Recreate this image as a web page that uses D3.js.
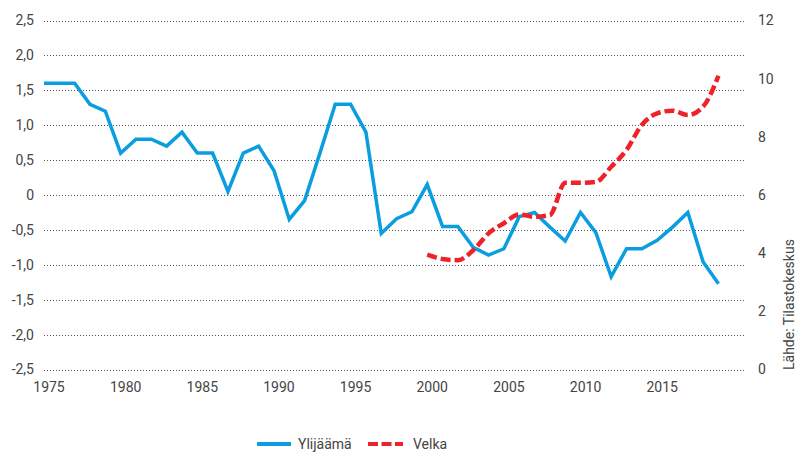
<!DOCTYPE html>
<html>
<head>
<meta charset="utf-8">
<script src="https://cdn.jsdelivr.net/npm/d3@7"></script>
<style>
  body { margin: 0; background: #fff; }
  text { font-family: Roboto, "Open Sans", sans-serif; fill: #444; }
</style>
</head>
<body>
<div id="chart"></div>
<script>
// surplus (left axis), 1975-2019
const surplusYears = d3.range(1975, 2020);
const surplus = [1.6, 1.6, 1.6, 1.3, 1.2, 0.6, 0.8, 0.8, 0.7, 0.9,
  0.6, 0.6, 0.05, 0.6, 0.7, 0.35, -0.35, -0.08, 0.6, 1.3,
  1.3, 0.9, -0.55, -0.34, -0.24, 0.15, -0.45, -0.45, -0.75, -0.86,
  -0.77, -0.31, -0.25, -0.46, -0.66, -0.25, -0.54, -1.17, -0.77, -0.77,
  -0.65, -0.46, -0.25, -0.96, -1.27];

// debt (right axis), 2000-2019
const debtYears = d3.range(2000, 2020);
const debt = [3.95, 3.8, 3.76, 4.1, 4.68, 5.03, 5.33, 5.25, 5.31, 6.42,
  6.42, 6.45, 6.97, 7.55, 8.41, 8.81, 8.9, 8.75, 9.04, 10.1];

const leftTicks = [2.5, 2, 1.5, 1, 0.5, 0, -0.5, -1, -1.5, -2, -2.5];
const rightTicks = [0, 2, 4, 6, 8, 10, 12];
const yearTicks = [1975, 1980, 1985, 1990, 1995, 2000, 2005, 2010, 2015];

const W = 797, H = 453;
const blue = "#0a9ee0", red = "#ee2229";

const svg = d3.select("#chart").append("svg")
  .attr("width", W)
  .attr("height", H);

const x = d3.scaleLinear().domain([1975, 2020.73]).range([44, 745]);
const yL = d3.scaleLinear().domain([-2.5, 2.5]).range([369.5, 20.5]);
const yR = d3.scaleLinear().domain([0, 12]).range([369.5, 20.5]);

const fmt = v => v === 0 ? "0" : d3.format(".1f")(v).replace(".", ",").replace("−", "-");

// dotted gridlines
svg.append("g")
  .selectAll("line")
  .data(leftTicks)
  .join("line")
    .attr("x1", 44)
    .attr("x2", 745)
    .attr("y1", d => Math.round(yL(d)) + 0.5)
    .attr("y2", d => Math.round(yL(d)) + 0.5)
    .attr("stroke", "#555")
    .attr("stroke-width", 1)
    .attr("stroke-dasharray", "1,2");

function styleTicks(g) {
  g.select(".domain").remove();
  g.selectAll("text")
    .style("font-size", "14px")
    .attr("fill", "#444");
}

// left axis
svg.append("g")
  .attr("transform", "translate(44,0)")
  .call(d3.axisLeft(yL).tickValues(leftTicks).tickFormat(fmt).tickSize(0).tickPadding(10))
  .call(styleTicks);

// right axis
svg.append("g")
  .attr("transform", "translate(745,0)")
  .call(d3.axisRight(yR).tickValues(rightTicks).tickSize(0).tickPadding(13))
  .call(styleTicks);

// bottom axis
svg.append("g")
  .attr("transform", "translate(0,380)")
  .call(d3.axisBottom(x).tickValues(yearTicks).tickFormat(d3.format("d")).tickSize(0).tickPadding(2))
  .call(styleTicks)
  .selectAll("text")
    .attr("dx", 4.5);

// surplus line
svg.append("path")
  .datum(surplusYears.map((yr, i) => [yr, surplus[i]]))
  .attr("fill", "none")
  .attr("stroke", blue)
  .attr("stroke-width", 3.5)
  .attr("d", d3.line()
    .x(d => x(d[0]))
    .y(d => yL(d[1])));

// debt line
svg.append("path")
  .datum(debtYears.map((yr, i) => [yr, debt[i]]))
  .attr("fill", "none")
  .attr("stroke", red)
  .attr("stroke-width", 4.5)
  .attr("stroke-dasharray", "10,4")
  .attr("d", d3.line()
    .curve(d3.curveMonotoneX)
    .x(d => x(d[0]))
    .y(d => yR(d[1])));

// source
svg.append("text")
  .attr("transform", "translate(794,370) rotate(-90)")
  .attr("text-anchor", "start")
  .style("font-size", "14px")
  .text("Lähde: Tilastokeskus");

// legend
const legend = svg.append("g").attr("transform", "translate(0,444)");
legend.append("line")
  .attr("x1", 257).attr("x2", 291)
  .attr("stroke", blue).attr("stroke-width", 4);
legend.append("text")
  .attr("x", 298).attr("y", 5)
  .style("font-size", "14px")
  .text("Ylijäämä");
legend.append("line")
  .attr("x1", 368).attr("x2", 403)
  .attr("stroke", red).attr("stroke-width", 4)
  .attr("stroke-dasharray", "10,3.5");
legend.append("text")
  .attr("x", 413).attr("y", 5)
  .style("font-size", "14px")
  .text("Velka");
</script>
</body>
</html>
